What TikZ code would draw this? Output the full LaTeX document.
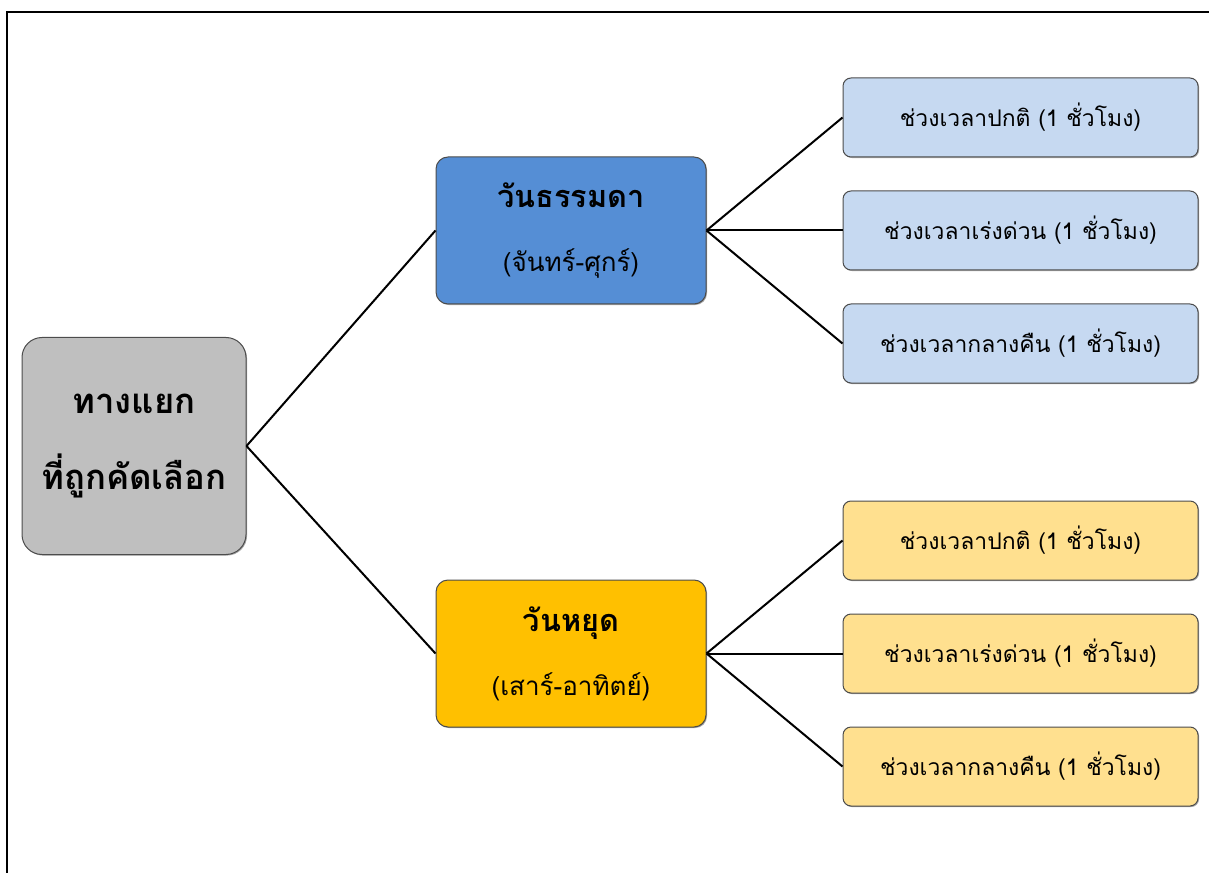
\documentclass[tikz,border=0pt]{standalone}
\usepackage{fontspec}
\newfontfamily\thaifont[Script=Thai]{Loma}
\usetikzlibrary{positioning,shadows}

\definecolor{rootgray}{HTML}{BFBFBF}
\definecolor{weekblue}{HTML}{558ED5}
\definecolor{holorange}{HTML}{FFC000}
\definecolor{leafblue}{HTML}{C6D9F1}
\definecolor{leafyellow}{HTML}{FFE08F}

\newcommand{\daytitle}{\bfseries\fontsize{23}{48}\selectfont}
\newcommand{\daysub}{\mdseries\fontsize{19.5}{48}\selectfont}

\begin{document}
\begin{tikzpicture}[x=0.75pt,y=-0.75pt,
	box/.style={draw=black!70,line width=0.75pt,align=center,inner sep=0pt,
		drop shadow={shadow xshift=0.8pt,shadow yshift=-0.8pt,opacity=0.35,fill=black}},
	rootbox/.style={box,fill=rootgray,rounded corners=15pt,minimum width=168pt,minimum height=162.75pt,
		font=\thaifont\bfseries\fontsize{26}{57}\selectfont},
	daybox/.style={box,rounded corners=9pt,minimum width=202.5pt,minimum height=110.25pt,
		font=\thaifont\fontsize{19.5}{48}\selectfont},
	leafbox/.style={box,rounded corners=6pt,minimum width=266.25pt,minimum height=59.25pt,
		font=\thaifont\fontsize{17.2}{22}\selectfont},
	branch/.style={line width=1.5pt}]
	
	\useasboundingbox (0,0) rectangle (1209,873);
	\draw[line width=1.5pt] (1209,12.5) -- (6.5,12.5) -- (6.5,873);
	
	\node[rootbox] (root) at (134,446) {ทางแยก\\ที่ถูกคัดเลือก};
	\node[daybox,fill=weekblue] (weekday) at (571,230.5) {{\daytitle วันธรรมดา}\\{\daysub (จันทร์-ศุกร์)}};
	\node[daybox,fill=holorange] (holiday) at (571,653.5) {{\daytitle วันหยุด}\\{\daysub (เสาร์-อาทิตย์)}};
	
	\node[leafbox,fill=leafblue] (w2) [right=102pt of weekday] {ช่วงเวลาเร่งด่วน (1 ชั่วโมง)};
	\node[leafbox,fill=leafblue] (w1) [above=24.75pt of w2] {ช่วงเวลาปกติ (1 ชั่วโมง)};
	\node[leafbox,fill=leafblue] (w3) [below=24.75pt of w2] {ช่วงเวลากลางคืน (1 ชั่วโมง)};
	
	\node[leafbox,fill=leafyellow] (h2) [right=102pt of holiday] {ช่วงเวลาเร่งด่วน (1 ชั่วโมง)};
	\node[leafbox,fill=leafyellow] (h1) [above=24.75pt of h2] {ช่วงเวลาปกติ (1 ชั่วโมง)};
	\node[leafbox,fill=leafyellow] (h3) [below=24.75pt of h2] {ช่วงเวลากลางคืน (1 ชั่วโมง)};
	
	\draw[branch] (root.east) -- (weekday.west);
	\draw[branch] (root.east) -- (holiday.west);
	\foreach \leaf in {w1,w2,w3}
		\draw[branch] (weekday.east) -- (\leaf.west);
	\foreach \leaf in {h1,h2,h3}
		\draw[branch] (holiday.east) -- (\leaf.west);
\end{tikzpicture}
\end{document}
